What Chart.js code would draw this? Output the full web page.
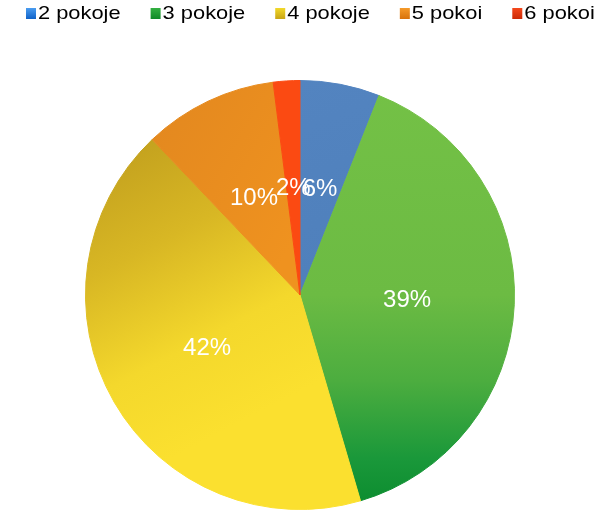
<!DOCTYPE html>
<html>
<head>
<meta charset="utf-8">
<script src="https://cdn.jsdelivr.net/npm/chart.js@4.4.0/dist/chart.umd.min.js"></script>
<style>
html,body{margin:0;padding:0;background:#ffffff;}
#wrap{width:600px;height:517px;}
</style>
</head>
<body>
<div id="wrap"><canvas id="c" width="600" height="517"></canvas></div>
<script>
// ---- data ----
const categories = ['2 pokoje', '3 pokoje', '4 pokoje', '5 pokoi', '6 pokoi'];
const shares = [6.0, 39.45, 42.45, 10.1, 2.0];

// ---- styles ----
const flatColors = ['#5081bd', '#6cbb43', '#f2d42b', '#ec8f1f', '#fb4a12'];
const legendTop = ['#4a9cf0', '#34b042', '#f2d92a', '#f59a2a', '#f5481c'];
const legendBottom = ['#0f62c8', '#0f8a28', '#c8a414', '#d8720c', '#cc2a06'];

function sliceFill(chart, i) {
  const area = chart.chartArea;
  if (!area) return flatColors[i];
  const c = chart.ctx;
  const cx = (area.left + area.right) / 2;
  const cy = (area.top + area.bottom) / 2;
  const R = Math.min(area.right - area.left, area.bottom - area.top) / 2;
  let g;
  if (i === 0) {
    g = c.createLinearGradient(cx, cy - R, cx + R * 0.4, cy);
    g.addColorStop(0, '#5384c0'); g.addColorStop(1, '#4e7fbb');
  } else if (i === 1) {
    g = c.createLinearGradient(cx, cy - R, cx, cy + R);
    g.addColorStop(0, '#74c146'); g.addColorStop(0.5, '#6cbb43');
    g.addColorStop(0.7, '#4cad3f'); g.addColorStop(0.88, '#1a983a');
    g.addColorStop(1, '#0a8b2e');
  } else if (i === 2) {
    g = c.createLinearGradient(cx - R * 0.75, cy - R * 0.75, cx - R * 0.1, cy + R * 0.5);
    g.addColorStop(0, '#c2a01e'); g.addColorStop(0.35, '#d8b724');
    g.addColorStop(0.7, '#f4d82c'); g.addColorStop(1, '#fbe02f');
  } else if (i === 3) {
    g = c.createLinearGradient(cx - R * 0.7, cy - R * 0.7, cx, cy - R * 0.3);
    g.addColorStop(0, '#e4891f'); g.addColorStop(1, '#ef921f');
  } else {
    return flatColors[i];
  }
  return g;
}

const pctLabels = {
  id: 'pctLabels',
  afterDatasetsDraw(chart) {
    const ctx = chart.ctx;
    const meta = chart.getDatasetMeta(0);
    const data = chart.data.datasets[0].data;
    const total = data.reduce((a, b) => a + b, 0);
    ctx.save();
    ctx.font = '24px "Liberation Sans", Arial, sans-serif';
    ctx.fillStyle = '#ffffff';
    ctx.textAlign = 'center';
    ctx.textBaseline = 'middle';
    meta.data.forEach((arc, i) => {
      const p = arc.tooltipPosition();
      ctx.fillText(Math.round(data[i] / total * 100) + '%', p.x, p.y);
    });
    ctx.restore();
  }
};

const topLegend = {
  id: 'topLegend',
  afterDraw(chart) {
    const ctx = chart.ctx;
    const sx = 1.15;
    const boxW = 10, boxH = 11, boxY = 8, textY = 14, gap = 30;
    let x = 26;
    ctx.save();
    ctx.font = '19px "Liberation Sans", Arial, sans-serif';
    ctx.textBaseline = 'middle';
    ctx.textAlign = 'left';
    categories.forEach((label, i) => {
      const g = ctx.createLinearGradient(0, boxY, 0, boxY + boxH);
      g.addColorStop(0, legendTop[i]);
      g.addColorStop(1, legendBottom[i]);
      ctx.fillStyle = g;
      ctx.fillRect(x, boxY, boxW, boxH);
      const tx = x + boxW + 2;
      ctx.save();
      ctx.translate(tx, textY);
      ctx.scale(sx, 1);
      ctx.fillStyle = '#000000';
      ctx.fillText(label, 0, 0);
      ctx.restore();
      x = tx + ctx.measureText(label).width * sx + gap;
    });
    ctx.restore();
  }
};

new Chart(document.getElementById('c'), {
  type: 'pie',
  data: {
    labels: categories,
    datasets: [{
      data: shares,
      backgroundColor: (c) => sliceFill(c.chart, c.dataIndex),
      borderColor: (c) => sliceFill(c.chart, c.dataIndex),
      borderWidth: 1
    }]
  },
  options: {
    responsive: false,
    animation: false,
    events: [],
    layout: { padding: { top: 80, bottom: 7, left: 0, right: 0 } },
    plugins: {
      legend: { display: false },
      tooltip: { enabled: false }
    }
  },
  plugins: [pctLabels, topLegend]
});
</script>
</body>
</html>
